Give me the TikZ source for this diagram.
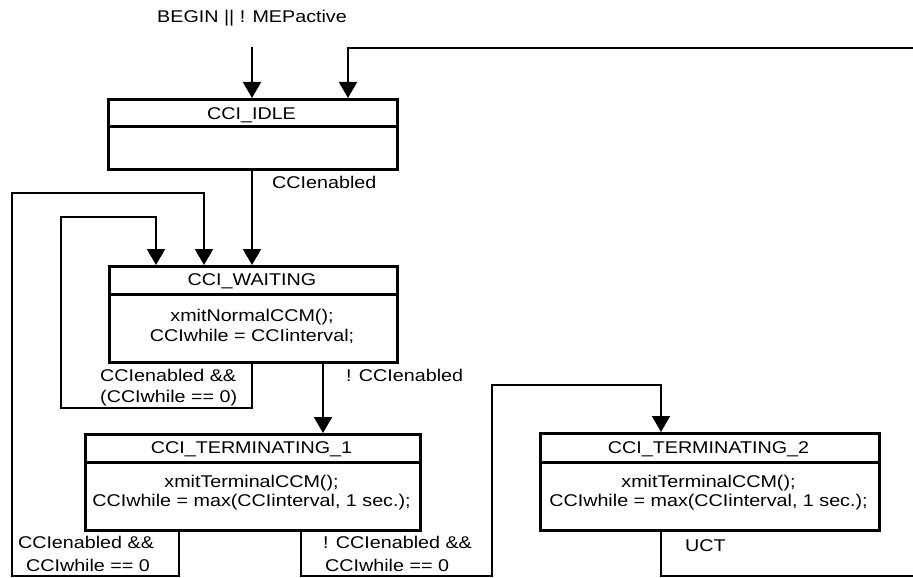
\documentclass[tikz,border=0pt]{standalone}
\usepackage{fontspec}
\setmainfont{Liberation Sans}[FakeStretch=1.16]
\usetikzlibrary{arrows.meta}
\begin{document}
\begin{tikzpicture}[x=1pt,y=-1pt,
  every node/.style={font=\fontsize{17}{19}\selectfont, inner sep=0pt},
  statebox/.style={draw, line width=3pt, anchor=north west, inner sep=0pt},
  divline/.style={line width=3pt},
  conn/.style={line width=2pt},
  arr/.style={conn, -{Triangle[length=16pt,width=18pt]}},
  lbl/.style={anchor=base west},
  ctr/.style={anchor=base},
]
\useasboundingbox (0,0) rectangle (913,578);

% state boxes
\node[statebox, minimum width=289pt, minimum height=70pt] (idle) at (107,98) {};
\node[statebox, minimum width=288pt, minimum height=96pt] (wait) at (108,265) {};
\node[statebox, minimum width=335pt, minimum height=96pt] (t1) at (84,433) {};
\node[statebox, minimum width=339pt, minimum height=97pt] (t2) at (539,432) {};

% dividers
\draw[divline] (idle.west |- 0,126) -- (idle.east |- 0,126);
\draw[divline] (wait.west |- 0,294) -- (wait.east |- 0,294);
\draw[divline] (t1.west |- 0,462) -- (t1.east |- 0,462);
\draw[divline] (t2.west |- 0,462) -- (t2.east |- 0,462);

% titles and bodies
\node[ctr] (idleT) at (251.5,119) {CCI\_IDLE};
\node[ctr] (waitT) at (252,285) {CCI\_WAITING};
\node[ctr] (waitB1) at (252,321) {xmitNormalCCM();};
\node[ctr] (waitB2) at (252,341) {CCIwhile = CCIinterval;};
\node[ctr] (t1T) at (251.5,453) {CCI\_TERMINATING\_1};
\node[ctr] (t1B1) at (251.5,487) {xmitTerminalCCM();};
\node[ctr] (t1B2) at (251.5,506) {CCIwhile = max(CCIinterval, 1 sec.);};
\node[ctr] (t2T) at (708.5,453) {CCI\_TERMINATING\_2};
\node[ctr] (t2B1) at (708.5,487) {xmitTerminalCCM();};
\node[ctr] (t2B2) at (708.5,506) {CCIwhile = max(CCIinterval, 1 sec.);};

% labels
\node[ctr] (begin) at (252,23) {BEGIN || ! MEPactive};
\node[lbl] (lenab) at (272,188) {CCIenabled};
\node[lbl] (lloop1) at (100,381) {CCIenabled \&\&};
\node[lbl] (lloop2) at (100,402) {(CCIwhile == 0)};
\node[lbl] (lnot) at (346,381) {! CCIenabled};
\node[ctr] (lb1) at (86,548) {CCIenabled \&\&};
\node[ctr] (lb2) at (88,571) {CCIwhile == 0};
\node[lbl] (lb3) at (323,548) {! CCIenabled \&\&};
\node[lbl] (lb4) at (325,571) {CCIwhile == 0};
\node[lbl] (luct) at (685,551) {UCT};

% free ends
\coordinate (bstart) at (252,47);
\coordinate (topR) at (913,48);
\coordinate (botR) at (913,576);

% connectors
\draw[arr] (bstart) -- (idle.north -| bstart);
\draw[arr] (topR) -| (idle.north -| 348,0);
\draw[arr] (idle.south -| 252,0) -- (wait.north -| 252,0);
\draw[arr] (wait.south -| 252,0) -- (252,408) -| (61,217) -| (wait.north -| 156,0);
\draw[arr] (wait.south -| 323,0) -- (t1.north -| 323,0);
\draw[arr] (t1.south -| 179,0) |- (12,576) |- (204,193) -- (wait.north -| 204,0);
\draw[arr] (t1.south -| 301,0) |- (492,576) |- (661,385) -- (t2.north -| 661,0);
\draw[conn] (t2.south -| 661,0) |- (botR);
\end{tikzpicture}
\end{document}
